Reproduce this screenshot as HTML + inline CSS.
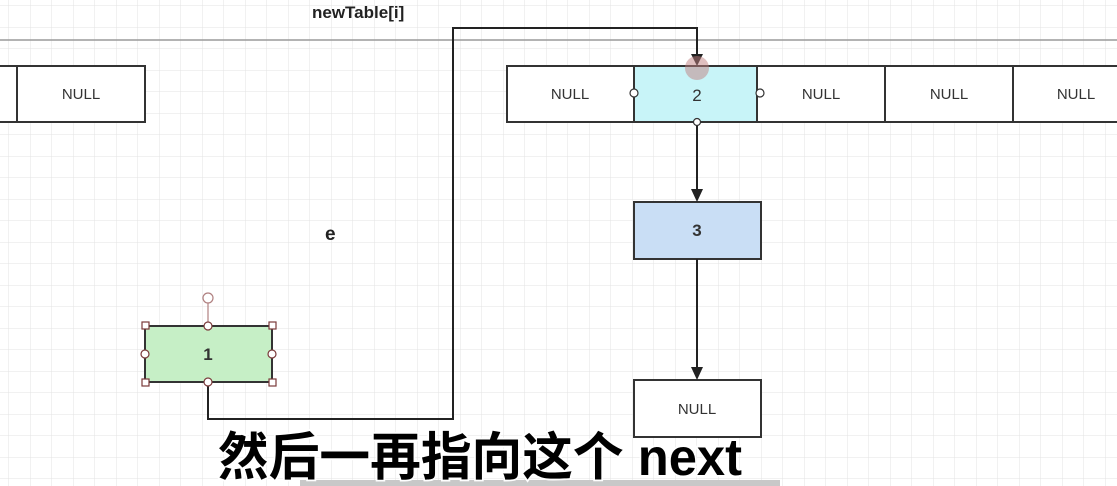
<!DOCTYPE html>
<html><head><meta charset="utf-8"><style>
html,body{margin:0;padding:0;width:1117px;height:486px;overflow:hidden;background:#fff;}
</style></head><body>
<svg width="1117" height="486" viewBox="0 0 1117 486" xmlns="http://www.w3.org/2000/svg" style="display:block">
<defs>
<pattern id="g" width="21.5" height="21.5" patternUnits="userSpaceOnUse" x="9" y="6">
<path d="M21.5 0V21.5M0 21.5H21.5" fill="none" stroke="#e3e3e3" stroke-width="1"/>
</pattern>
</defs>
<rect width="1117" height="486" fill="url(#g)"/>
<line x1="0" y1="40" x2="1117" y2="40" stroke="#9a9a9a" stroke-width="1.5"/>
<text x="312" y="18" font-family="Liberation Sans, sans-serif" font-weight="bold" font-size="17" fill="#222">newTable[i]</text>
<text x="325" y="240" font-family="Liberation Sans, sans-serif" font-weight="bold" font-size="19" fill="#222">e</text>
<g stroke="#333" stroke-width="2" fill="#fff">
<rect x="-5" y="66" width="22" height="56"/>
<rect x="17" y="66" width="128" height="56"/>
<rect x="507" y="66" width="127" height="56"/>
<rect x="634" y="66" width="123" height="56" fill="#c8f4f8"/>
<rect x="757" y="66" width="128" height="56"/>
<rect x="885" y="66" width="128" height="56"/>
<rect x="1013" y="66" width="110" height="56"/>
<rect x="634" y="202" width="127" height="57" fill="#c9def5"/>
<rect x="634" y="380" width="127" height="57"/>
<rect x="145" y="326" width="127" height="56" fill="#c6efc6"/>
</g>
<g font-family="Liberation Sans, sans-serif" font-size="15" fill="#333" text-anchor="middle">
<text x="81" y="99">NULL</text>
<text x="570" y="99">NULL</text>
<text x="821" y="99">NULL</text>
<text x="949" y="99">NULL</text>
<text x="1076" y="99">NULL</text>
<text x="697" y="414">NULL</text>
<text x="697" y="101" font-size="17">2</text>
<text x="697" y="236" font-size="17" font-weight="bold">3</text>
<text x="208" y="360" font-size="17" font-weight="bold">1</text>
</g>
<g fill="none" stroke="#222" stroke-width="2">
<path d="M208 382V419H453V28H697V56"/>
<path d="M697 122V190"/>
<path d="M697 259V368"/>
</g>
<g fill="#222">
<path d="M691 54H703L697 66Z"/>
<path d="M691 189H703L697 202Z"/>
<path d="M691 367H703L697 380Z"/>
</g>
<circle cx="697" cy="68" r="12" fill="#c08080" opacity="0.5"/>
<g fill="#fff" stroke="#333" stroke-width="1.2">
<circle cx="634" cy="93" r="4"/><circle cx="760" cy="93" r="4"/><circle cx="697" cy="122" r="3.5"/>
</g>
<g fill="#fff" stroke="#7a3a3a" stroke-width="1.2">
<line x1="208" y1="302" x2="208" y2="326" stroke="#b08080"/>
<circle cx="208" cy="298" r="5" stroke="#b08080"/>
<rect x="142" y="322" width="7" height="7"/><rect x="269" y="322" width="7" height="7"/>
<rect x="142" y="379" width="7" height="7"/><rect x="269" y="379" width="7" height="7"/>
<circle cx="208" cy="326" r="4"/><circle cx="208" cy="382" r="4"/>
<circle cx="145" cy="354" r="4"/><circle cx="272" cy="354" r="4"/>
</g>
<rect x="300" y="480" width="480" height="6" fill="#c8c8c8"/>
<text transform="translate(218 475) scale(1 1.18)" x="0" y="0" font-family="Liberation Sans, 'Noto Sans CJK SC', sans-serif" font-weight="bold" font-size="44" fill="#000" stroke="#fff" stroke-width="3" paint-order="stroke" textLength="524" lengthAdjust="spacingAndGlyphs">然后一再指向这个 next</text>
</svg>
</body></html>
